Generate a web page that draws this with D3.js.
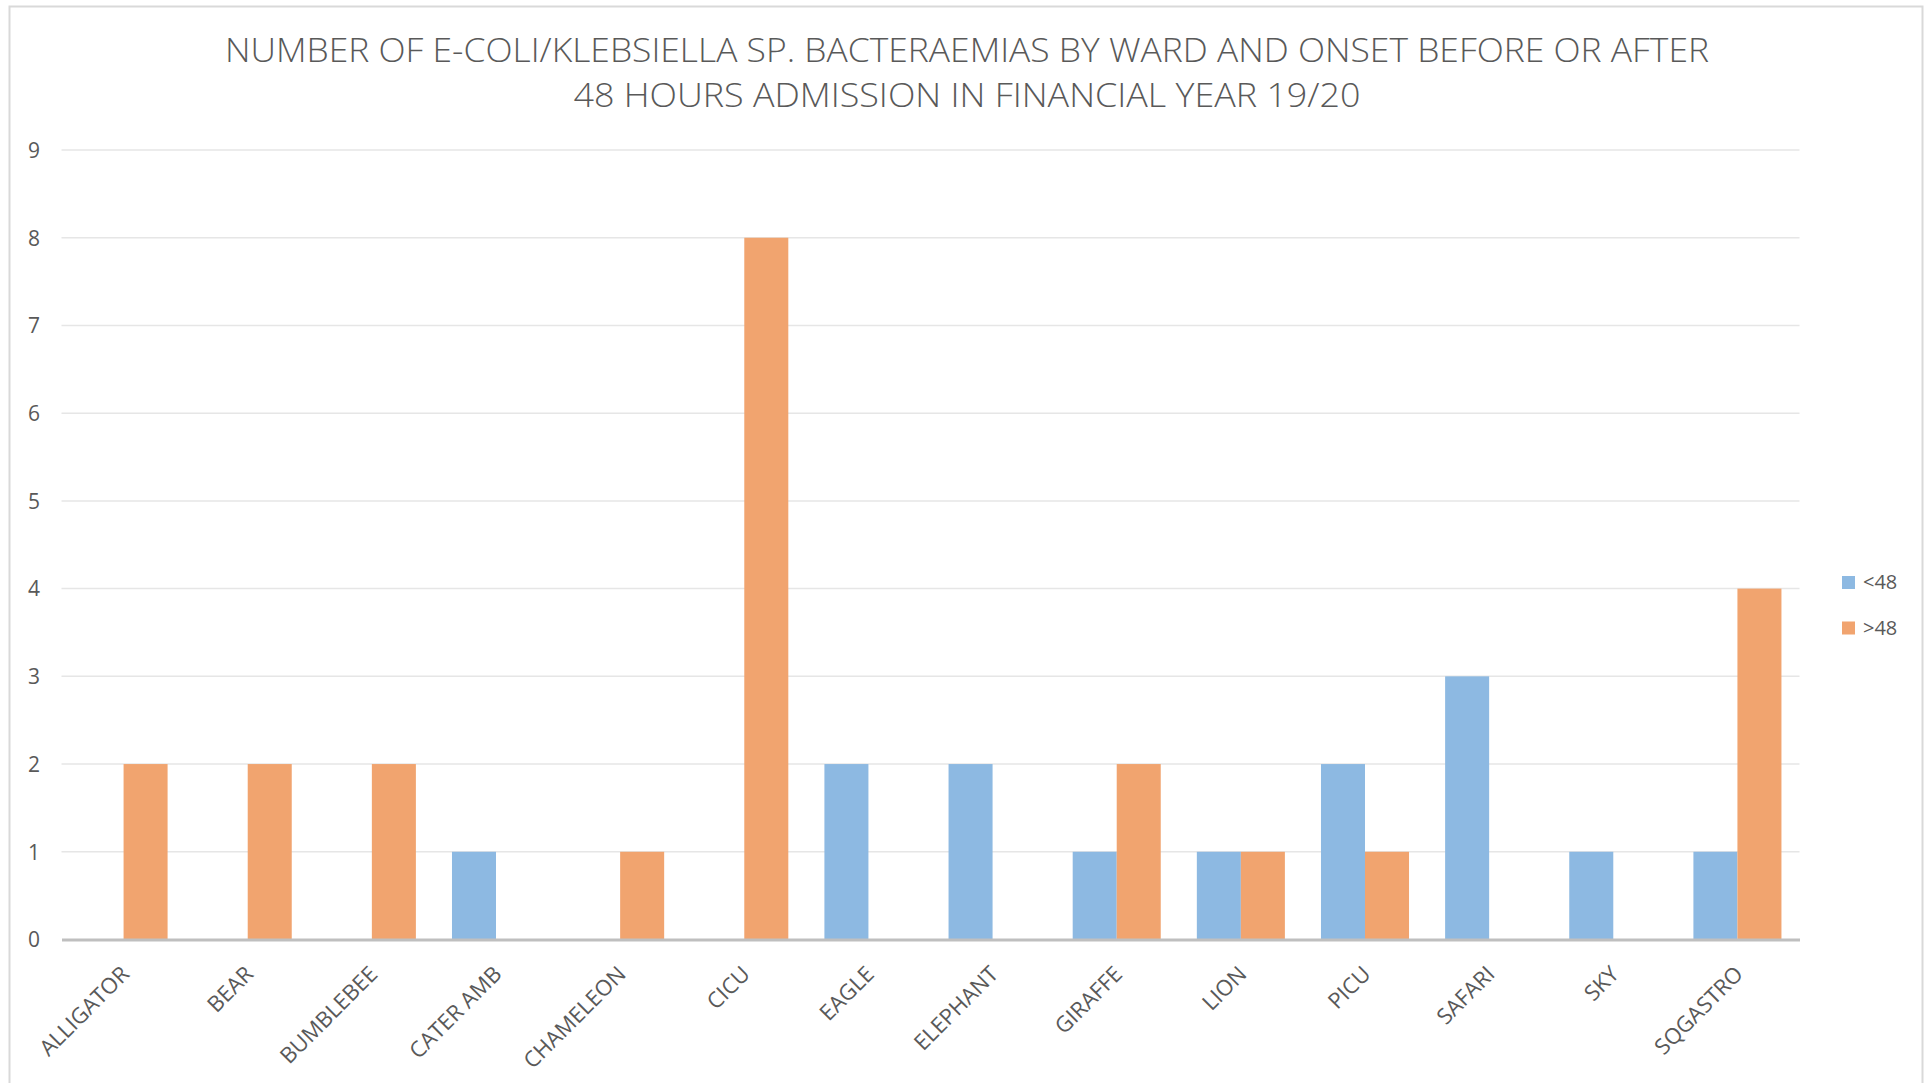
<!DOCTYPE html>
<html>
<head>
<meta charset="utf-8">
<script src="https://cdn.jsdelivr.net/npm/d3@7"></script>
<style>
  html, body { margin: 0; padding: 0; background: #fff; }
  svg { display: block; }
  text { font-family: "Open Sans", "Noto Sans", sans-serif; fill: #595959; }
</style>
</head>
<body>
<svg width="1928" height="1083"></svg>
<script>
// ward names along the x axis
const wards = ["ALLIGATOR", "BEAR", "BUMBLEBEE", "CATER AMB", "CHAMELEON", "CICU", "EAGLE",
  "ELEPHANT", "GIRAFFE", "LION", "PICU", "SAFARI", "SKY", "SQGASTRO"];

// onset series
const seriesNames = ["<48", ">48"];
const under48 = [0, 0, 0, 1, 0, 0, 2, 2, 1, 1, 2, 3, 1, 1];
const over48 = [2, 2, 2, 0, 1, 8, 0, 0, 2, 1, 1, 0, 0, 4];
const yTicks = [0, 1, 2, 3, 4, 5, 6, 7, 8, 9];

const titleLines = [
  "NUMBER OF E-COLI/KLEBSIELLA SP. BACTERAEMIAS BY WARD AND ONSET BEFORE OR AFTER",
  "48 HOURS ADMISSION IN FINANCIAL YEAR 19/20"
];

const colors = { "<48": "#8db9e2", ">48": "#f1a46f" };

let rows = wards.map(function (w, i) {
  return { ward: w, "<48": under48[i], ">48": over48[i] };
});

let svg = d3.select("svg"),
  width = +svg.attr("width"),
  height = +svg.attr("height");

let margin = { left: 61.5, right: 1799.5, top: 150, bottom: 939.5 };

// chart frame
svg.append("rect")
  .attr("x", 9.5).attr("y", 6.5)
  .attr("width", 1913).attr("height", 1090)
  .attr("fill", "#fff")
  .attr("stroke", "#d9d9d9")
  .attr("stroke-width", 2);

// title
let title = svg.append("g").attr("class", "title");
title.selectAll("text")
  .data(titleLines)
  .enter()
  .append("text")
  .attr("x", 967)
  .attr("y", function (d, i) { return 62 + i * 45; })
  .attr("text-anchor", "middle")
  .attr("font-size", 33)
  .attr("font-weight", 300)
  .attr("textLength", function (d, i) { return i == 0 ? 1484 : 787; })
  .attr("lengthAdjust", "spacingAndGlyphs")
  .text(function (d) { return d; });

let x0 = d3.scaleBand()
  .domain(wards)
  .range([margin.left, margin.right])
  .padding(0);

let x1 = d3.scaleBand()
  .domain(seriesNames)
  .range([0, x0.bandwidth()])
  .paddingInner(0)
  .paddingOuter(0.41);

let y = d3.scaleLinear()
  .domain([0, 9])
  .range([margin.bottom, margin.top]);

// gridlines
svg.append("g")
  .attr("class", "grid")
  .selectAll("line")
  .data(yTicks.filter(function (d) { return d > 0; }))
  .enter()
  .append("line")
  .attr("x1", margin.left)
  .attr("x2", margin.right)
  .attr("y1", function (d) { return y(d); })
  .attr("y2", function (d) { return y(d); })
  .attr("stroke", "#e6e6e6")
  .attr("stroke-width", 1.5);

// y axis labels (no axis line in the original)
let yAxis = svg.append("g")
  .attr("transform", "translate(" + 40 + ",0)")
  .call(d3.axisLeft(y).tickValues(yTicks).tickSize(0).tickPadding(0));
yAxis.select(".domain").remove();
yAxis.selectAll("text")
  .attr("font-size", 21)
  .attr("font-family", null)
  .attr("fill", "#595959")
  .attr("dy", "0.35em");

// bars
let groups = svg.append("g")
  .attr("class", "bars")
  .selectAll("g")
  .data(rows)
  .enter()
  .append("g")
  .attr("transform", function (d) { return "translate(" + x0(d.ward) + ",0)"; });

groups.selectAll("rect")
  .data(function (d) {
    return seriesNames.map(function (s) { return { key: s, value: d[s] }; });
  })
  .enter()
  .append("rect")
  .attr("x", function (d) { return x1(d.key); })
  .attr("width", x1.bandwidth())
  .attr("y", function (d) { return y(d.value); })
  .attr("height", function (d) { return y(0) - y(d.value); })
  .attr("fill", function (d) { return colors[d.key]; });

// x axis line
let xAxis = svg.append("g")
  .attr("transform", "translate(0," + y(0) + ")")
  .call(d3.axisBottom(x0).tickSize(0).tickPadding(0));
xAxis.select(".domain")
  .attr("stroke", "#bfbfbf")
  .attr("stroke-width", 3);
xAxis.selectAll("text")
  .attr("font-size", 22)
  .attr("font-family", null)
  .attr("fill", "#595959")
  .attr("text-anchor", "end")
  .attr("dy", null)
  .attr("y", 0)
  .attr("transform", "translate(7,36) rotate(-45)");

// legend
let legend = svg.append("g")
  .attr("class", "legend")
  .selectAll("g")
  .data(seriesNames)
  .enter()
  .append("g")
  .attr("transform", function (d, i) { return "translate(1842," + (576 + i * 45.5) + ")"; });

legend.append("rect")
  .attr("width", 13)
  .attr("height", 13)
  .attr("fill", function (d) { return colors[d]; });

legend.append("text")
  .attr("x", 21)
  .attr("y", 13)
  .attr("font-size", 20)
  .text(function (d) { return d; });
</script>
</body>
</html>
